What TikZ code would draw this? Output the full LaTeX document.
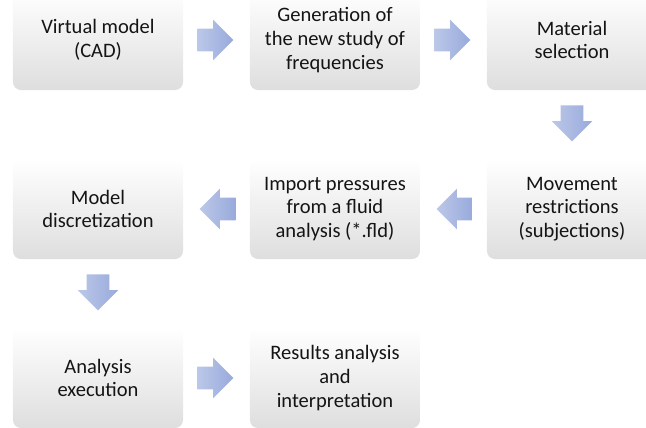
\documentclass[tikz,border=0pt]{standalone}
\usepackage{fontspec}
\setmainfont{Carlito}
\usetikzlibrary{shapes.arrows,calc}

\definecolor{flowblue}{RGB}{152,170,220}
\definecolor{boxgrey}{RGB}{222,222,222}

\begin{document}
\begin{tikzpicture}[x=0.025cm,y=0.025cm,
    stage/.style={rectangle, rounded corners=0.2cm, minimum width=4.25cm,
      minimum height=2.5cm, top color=white, middle color=white,
      bottom color=boxgrey, text=black!92, align=center,
      font=\fontsize{14.6}{16.9}\selectfont},
    flowarrow/.style={single arrow, single arrow head extend=0.225cm,
      minimum height=0.9cm, inner sep=0.275cm,
      left color=flowblue!65!white, right color=flowblue},
    % pull the arrow back so its middle, not its shaft, sits on the point
    backoff/.style={xshift=-0.17cm}]

      \useasboundingbox (0,0) rectangle (646,428);

      % Three rows of boxes, the flow snakes right, down, left, down, right:
      %     1 -> 2 -> 3
      %               |
      %     6 <- 5 <- 4
      %     |
      %     7 -> 8
      \node[stage] (cad) at (98,388) {Virtual model\\(CAD)};
      \node[stage] (freq) at (335,388) {Generation of\\the new study of\\frequencies};
      \node[stage] (mat) at (572,388) {Material\\selection};

      \node[stage] (restr) at (572,219) {Movement\\restrictions\\(subjections)};
      \node[stage] (press) at (335,219) {Import pressures\\from a fluid\\analysis (*.fld)};
      \node[stage] (mesh) at (98,219) {Model\\discretization};

      \node[stage] (run) at (98,50) {Analysis\\execution};
      \node[stage] (res) at (335,50) {Results analysis\\and\\interpretation};

      %Now the block arrows, each one halfway between its two boxes
      \node[flowarrow,backoff] (a1) at ($(cad.east)!.5!(freq.west)$) {};
      \node[flowarrow,backoff] (a2) at ($(freq.east)!.5!(mat.west)$) {};
      \node[flowarrow,rotate=-90,backoff] (a3) at ($(mat.south)!.5!(restr.north)$) {};
      \node[flowarrow,rotate=180,backoff] (a4) at ($(restr.west)!.5!(press.east)$) {};
      \node[flowarrow,rotate=180,backoff] (a5) at ($(press.west)!.5!(mesh.east)$) {};
      \node[flowarrow,rotate=-90,backoff] (a6) at ($(mesh.south)!.5!(run.north)$) {};
      \node[flowarrow,backoff] (a7) at ($(run.east)!.5!(res.west)$) {};

    \end{tikzpicture}
\end{document}
